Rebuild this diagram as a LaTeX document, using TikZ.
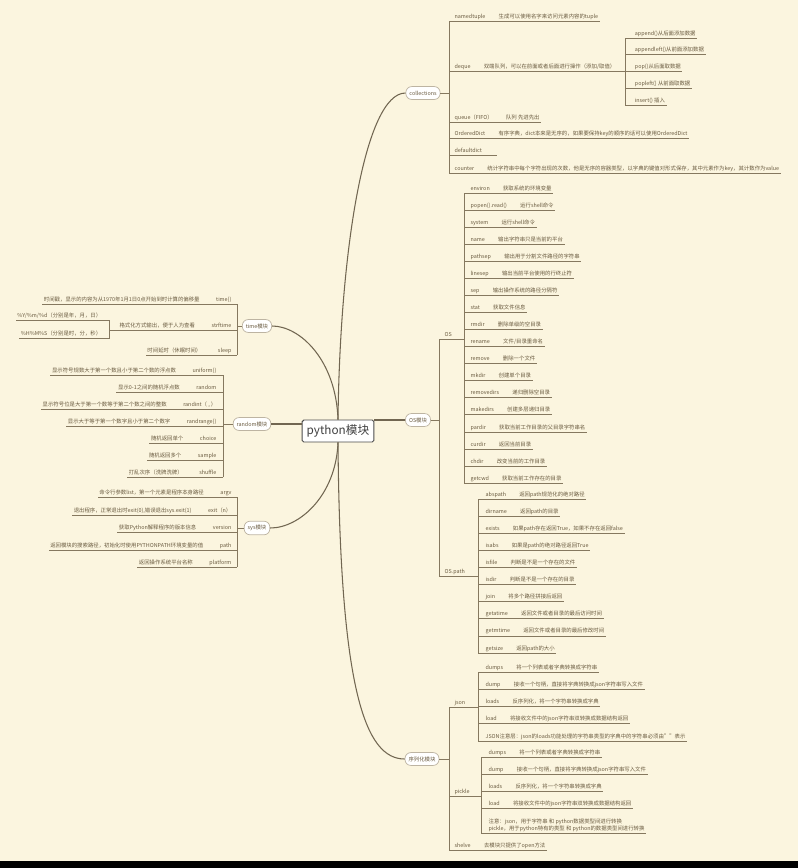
\documentclass[tikz,border=0pt]{standalone}
\usepackage{fontspec}
\setmainfont{Noto Sans CJK SC}
\usepackage{tikz}
\usetikzlibrary{positioning}
\definecolor{paper}{HTML}{FBF5DF}
\definecolor{twig}{HTML}{85785F}
\definecolor{ink}{HTML}{6A5B40}
\definecolor{rim}{HTML}{BDB4A2}

\begin{document}
\begin{tikzpicture}[
    x=0.3mm, y=-0.3mm,
    node distance=3mm,
    font=\fontsize{4.6}{5.6}\selectfont,
    root/.style={
		rectangle,
		rounded corners=1.5pt,
		draw=black!70,
		line width=0.8pt,
		fill=white,
		text=black!75,
		font=\fontsize{10}{12}\selectfont,
		inner xsep=4pt,
		inner ysep=4pt
	},
    topic/.style={
		rectangle,
		rounded corners=5pt,
		draw=rim,
		line width=0.6pt,
		fill=white,
		text=ink,
		inner xsep=3pt,
		minimum height=11pt
	},
    leaf/.style={
		text=ink,
		inner sep=1.2pt,
		text height=4pt,
		text depth=1pt
	},
    note/.style={
		text=ink,
		inner sep=1.2pt,
		align=left
	},
    twig/.style={draw=twig, line width=0.5pt},
    bough/.style={draw=twig!85!black, line width=0.9pt}
  ]
    % paper and the dark strip at the foot
    \useasboundingbox (0,0) rectangle (798,868);
    \fill [paper] (0,0) rectangle (798,861);
    \fill [black] (0,861) rectangle (798,868);

    % root and the six modules
    \node [root] (root) at (338,431) {python模块};
    \node [topic] (col) at (423,93) {collections};
    \node [topic] (os) at (418,420) {OS模块};
    \node [topic] (ser) at (422,759) {序列化模块};
    \node [topic] (tim) at (257,326) {time模块};
    \node [topic] (rnd) at (252,424) {random模块};
    \node [topic] (sys) at (257,528) {sys模块};

    \draw [bough] (root.north) .. controls (340,250) and (365,93) .. (col.west);
    \draw [bough] (root.north) .. controls (336,360) and (300,326) .. (tim.east);
    \draw [bough] (root.south) .. controls (336,495) and (300,528) .. (sys.east);
    \draw [bough] (root.south) .. controls (340,690) and (365,759) .. (ser.west);
    \draw [bough] (rnd.east) -- (rnd.east -| root.west);
    \draw [bough] (os.west) -- (os.west -| root.east);

    % collections
    \draw [twig] (col.east) -- (449,93);
    \draw [twig] (449,21) -- (449,173);
    \foreach \y/\k/\v [count=\i] in {
        21/namedtuple/生成可以使用名字来访问元素内容的tuple,
        71/deque/{双端队列，可以在前面或者后面进行操作（添加/取值）},
        122/queue（FIFO）/队列 先进先出,
        138/OrderedDict/有序字典，dict本来是无序的，如果要保持key的顺序的话可以使用OrderedDict,
        155/defaultdict/{},
        173/counter/统计字符串中每个字符出现的次数，他是无序的容器类型，以字典的键值对形式保存，其中元素作为key，其计数作为value}
    {
        \node [leaf, anchor=south west] (ck-\i) at (453,\y) {\k};
        \node [leaf, right=of ck-\i.south east, anchor=south west] (cv-\i) {\v};
        \draw [twig] (449,\y) -- (cv-\i.south east);
    }
    \coordinate (dq) at ([xshift=2.5mm]cv-2.south east);
    \draw [twig] (cv-2.south east) -- (dq);
    \draw [twig] (dq |- 0,38) -- (dq |- 0,105);
    \foreach \y/\k [count=\i] in {
        38/append()从后面添加数据,
        54/appendleft()从前面添加数据,
        71/pop()从后面取数据,
        88/popleft() 从前面取数据,
        105/insert() 插入}
    {
        \node [leaf, anchor=south west] (dk-\i) at ([xshift=2.4mm]dq |- 0,\y) {\k};
        \draw [twig] (dq |- 0,\y) -- (dk-\i.south east);
    }

    % OS
    \draw [twig] (os.east) -- (439,420);
    \draw [twig] (439,339) -- (439,576);
    \node [leaf, anchor=south west] (osk) at (443,339) {OS};
    \draw [twig] (439,339) -- (464,339);
    \draw [twig] (464,193) -- (464,483);
    \foreach \k/\v [count=\i] in {
        environ/获取系统的环境变量,
        popen().read()/运行shell命令,
        system/运行shell命令,
        name/输出字符串只是当前的平台,
        pathsep/输出用于分割文件路径的字符串,
        linesep/输出当前平台使用的行终止符,
        sep/输出操作系统的路径分隔符,
        stat/获取文件信息,
        rmdir/删除单级的空目录,
        rename/{文件/目录重命名},
        remove/删除一个文件,
        mkdir/创建单个目录,
        removedirs/递归删除空目录,
        makedirs/创建多层递归目录,
        pardir/获取当前工作目录的父目录字符串名,
        curdir/返回当前目录,
        chdir/改变当前的工作目录,
        getcwd/获取当前工作存在的目录}
    {
        \pgfmathsetmacro\y{193+17.06*(\i-1)}
        \node [leaf, anchor=south west] (ok-\i) at (469,\y) {\k};
        \node [leaf, right=of ok-\i.south east, anchor=south west] (ov-\i) {\v};
        \draw [twig] (464,\y) -- (ov-\i.south east);
    }

    % OS.path
    \node [leaf, anchor=south west] (opk) at (443,576) {OS.path};
    \draw [twig] (439,576) -- (478,576);
    \draw [twig] (478,499) -- (478,653);
    \foreach \k/\v [count=\i] in {
        abspath/返回path规范化的绝对路径,
        dirname/返回path的目录,
        exists/如果path存在返回True，如果不存在返回false,
        isabs/如果是path的绝对路径返回True,
        isfile/判断是不是一个存在的文件,
        isdir/判断是不是一个存在的目录,
        join/将多个路径拼接后返回,
        getatime/返回文件或者目录的最后访问时间,
        getmtime/返回文件或者目录的最后修改时间,
        getsize/返回path的大小}
    {
        \pgfmathsetmacro\y{499+17.1*(\i-1)}
        \node [leaf, anchor=south west] (pk-\i) at (484,\y) {\k};
        \node [leaf, right=of pk-\i.south east, anchor=south west] (pv-\i) {\v};
        \draw [twig] (478,\y) -- (pv-\i.south east);
    }

    % serialisation: json, pickle, shelve
    \draw [twig] (ser.east) -- (449,759);
    \draw [twig] (449,707) -- (449,850);
    \node [leaf, anchor=south west] (jsk) at (453,707) {json};
    \draw [twig] (449,707) -- (478,707);
    \draw [twig] (478,672) -- (478,741);
    \foreach \y/\k/\v [count=\i] in {
        672/dumps/将一个列表或者字典转换成字符串,
        689/dump/接收一个句柄，直接将字典转换成json字符串写入文件,
        706/loads/反序列化，将一个字符串转换成字典,
        723/load/将接收文件中的json字符串双转换成数据结构返回}
    {
        \node [leaf, anchor=south west] (jk-\i) at (484,\y) {\k};
        \node [leaf, right=of jk-\i.south east, anchor=south west] (jv-\i) {\v};
        \draw [twig] (478,\y) -- (jv-\i.south east);
    }
    \node [leaf, anchor=south west] (jnote) at (484,741) {JSON注意层：json的loads功能处理的字符串类型的字典中的字符串必须由""表示};
    \draw [twig] (478,741) -- (jnote.south east);

    \node [leaf, anchor=south west] (pkk) at (453,796) {pickle};
    \draw [twig] (449,796) -- (481,796);
    \draw [twig] (481,757) -- (481,833);
    \foreach \y/\k/\v [count=\i] in {
        757/dumps/将一个列表或者字典转换成字符串,
        774/dump/接收一个句柄，直接将字典转换成json字符串写入文件,
        791/loads/反序列化，将一个字符串转换成字典,
        808/load/将接收文件中的json字符串双转换成数据结构返回}
    {
        \node [leaf, anchor=south west] (qk-\i) at (487,\y) {\k};
        \node [leaf, right=of qk-\i.south east, anchor=south west] (qv-\i) {\v};
        \draw [twig] (481,\y) -- (qv-\i.south east);
    }
    \node [note, anchor=south west] (pnote) at (487,833)
 {%
  注意：json，用于字符串 和 python数据类型间进行转换\\
  pickle，用于python特有的类型 和 python的数据类型间进行转换
 };
    \draw [twig] (481,833) -- (pnote.south east);

    \node [leaf, anchor=south west] (shk) at (453,850) {shelve};
    \node [leaf, right=of shk.south east, anchor=south west] (shv) {去模块只提供了open方法};
    \draw [twig] (449,850) -- (shv.south east);

    % time
    \draw [twig] (tim.west) -- (237,326);
    \draw [twig] (237,304) -- (237,355);
    \foreach \y/\k/\v [count=\i] in {
        304/time()/时间戳，显示的内容为从1970年1月1日0点开始到时计算的偏移量,
        330/strftime/格式化方式输出，便于人为查看,
        355/sleep/时间延时（休眠时间）}
    {
        \node [leaf, anchor=south east] (tk-\i) at (233,\y) {\k};
        \node [leaf, left=4mm of tk-\i.south west, anchor=south east] (tv-\i) {\v};
        \draw [twig] (237,\y) -- (tv-\i.south west);
    }
    \coordinate (sf) at ([xshift=-2.5mm]tv-2.south west);
    \draw [twig] (tv-2.south west) -- (sf);
    \draw [twig] (sf |- 0,320) -- (sf |- 0,338);
    \foreach \y/\k [count=\i] in {
        320/{\%Y/\%m/\%d（分别是年，月，日）},
        338/{\%H\%M\%S（分别是时，分，秒）}}
    {
        \node [leaf, anchor=south east] (sk-\i) at ([xshift=-2mm]sf |- 0,\y) {\k};
        \draw [twig] (sf |- 0,\y) -- (sk-\i.south west);
    }

    % random
    \draw [twig] (rnd.west) -- (223,424);
    \draw [twig] (223,375) -- (223,477);
    \foreach \k/\v [count=\i] in {
        uniform()/显示符号规数大于第一个数且小于第二个数的浮点数,
        random/显示0-1之间的随机浮点数,
        {randint（ , ）}/显示符号位是大于第一个数等于第二个数之间的整数,
        randrange()/显示大于等于第一个数字且小于第二个数字,
        choice/随机返回单个,
        sample/随机返回多个,
        shuffle/打乱次序（洗牌洗牌）}
    {
        \pgfmathsetmacro\y{375+17*(\i-1)}
        \node [leaf, anchor=south east] (rk-\i) at (218,\y) {\k};
        \node [leaf, left=4mm of rk-\i.south west, anchor=south east] (rv-\i) {\v};
        \draw [twig] (223,\y) -- (rv-\i.south west);
    }

    % sys
    \draw [twig] (sys.west) -- (237,528);
    \draw [twig] (237,497) -- (237,567);
    \foreach \y/\k/\v [count=\i] in {
        497/argv/命令行参数list，第一个元素是程序本身路径,
        515/exit（n）/{退出程序，正常退出时exit(0),错误退出sys.exit(1)},
        532/version/获取Python解释程序的版本信息,
        550/path/返回模块的搜索路径，初始化时使用PYTHONPATH环境变量的值,
        567/platform/返回操作系统平台名称}
    {
        \node [leaf, anchor=south east] (yk-\i) at (233,\y) {\k};
        \node [leaf, left=4mm of yk-\i.south west, anchor=south east] (yv-\i) {\v};
        \draw [twig] (237,\y) -- (yv-\i.south west);
    }
\end{tikzpicture}
\end{document}
